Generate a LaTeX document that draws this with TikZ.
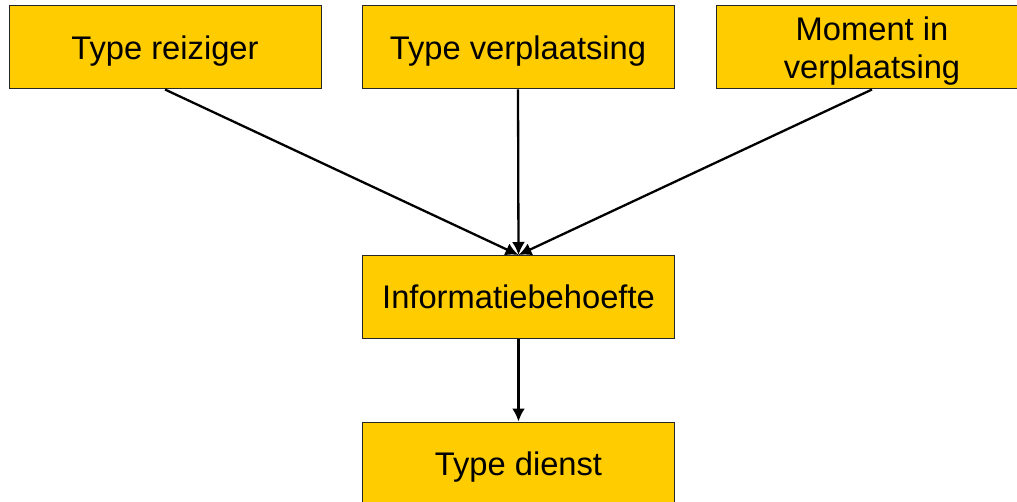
\documentclass[tikz,border=0pt]{standalone}
\usepackage{fontspec}
\setmainfont{Liberation Sans}
\usetikzlibrary{arrows.meta,positioning}

\definecolor{boxgelb}{HTML}{FFCC00}

\begin{document}
\begin{tikzpicture}[x=1pt,y=-1pt,
factor/.style={draw=black!85, line width=1pt, fill=boxgelb, minimum width=312pt, minimum height=83pt, inner sep=0pt, align=center, text depth=0pt, font=\fontsize{32.7}{38}\selectfont},
pijl/.style={line width=2.3pt, -{Latex[length=13pt,width=13pt]}}]

\useasboundingbox (0,0) rectangle (1017,502);

\node[factor] (reiziger) at (165,47.5) {Type reiziger};
\node[factor] (verplaatsing) at (518,47.5) {Type verplaatsing};
\node[factor] (moment) at (872,47.5) {Moment in\\verplaatsing};
\node[factor] (info) at (518.5,297) {Informatiebehoefte};
\node[factor] (dienst) at (518.5,463.5) {Type dienst};

\draw[pijl] (reiziger.south) -- (info.north);
\draw[pijl] (verplaatsing.south) -- (info.north);
\draw[pijl] (moment.south) -- (info.north);
\draw[pijl] (info.south) -- (dienst.north);
%
\end{tikzpicture}
\end{document}
